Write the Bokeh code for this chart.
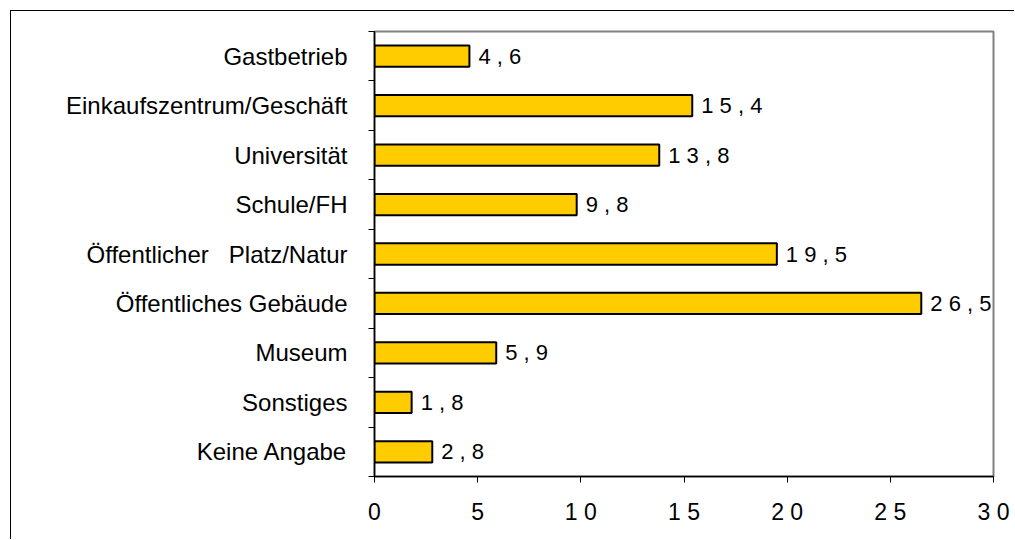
from bokeh.plotting import figure
from bokeh.models import Range1d, FixedTicker, ColumnDataSource
from bokeh.embed import file_html
from bokeh.resources import INLINE
from bokeh.core.properties import value

categories = ["Gastbetrieb", "Einkaufszentrum/Geschäft", "Universität", "Schule/FH",
              "Öffentlicher\u00a0\u00a0 Platz/Natur", "Öffentliches Gebäude", "Museum",
              "Sonstiges", "Keine Angabe"]
values = [4.6, 15.4, 13.8, 9.8, 19.5, 26.5, 5.9, 1.8, 2.8]
x_ticks = [0, 5, 10, 15, 20, 25, 30]

def spaced(s):
    return " ".join(list(s))

pos = list(range(len(categories)))
labels = [spaced(f"{v:.1f}".replace(".", ",")) for v in values]

src = ColumnDataSource(dict(y=pos, v=values, lab=labels))

FONT = "Liberation Sans"

p = figure(width=1004, height=529, output_backend="svg", toolbar_location=None,
           x_range=Range1d(0, 30), y_range=Range1d(len(categories) - 0.5, -0.5),
           min_border_left=363, min_border_right=22, min_border_top=20, min_border_bottom=64)
p.styles = {"border-top": "1px solid black", "border-left": "1px solid black",
            "margin-top": "10px", "margin-left": "10px"}

p.hbar(y="y", right="v", left=0, height=0.43, source=src,
       fill_color="#FFCC00", line_color="black", line_width=2)
p.text(x="v", y="y", text="lab", source=src, x_offset=9, text_baseline="middle",
       text_align="left", text_font=value(FONT), text_font_size="22px", text_color="black")

p.xgrid.visible = False
p.ygrid.visible = False
p.outline_line_color = "#808080"
p.outline_line_width = 2

xa = p.xaxis[0]
xa.ticker = FixedTicker(ticks=x_ticks)
xa.major_label_overrides = {t: spaced(str(t)) for t in x_ticks}
xa.major_tick_in = 0
xa.major_tick_out = 6
xa.minor_tick_out = 0
xa.minor_tick_in = 0
xa.axis_line_color = "black"
xa.axis_line_width = 1.5
xa.major_tick_line_color = "black"
xa.major_label_text_font = FONT
xa.major_label_text_font_size = "23px"
xa.major_label_text_color = "black"
xa.major_label_standoff = 16

ya = p.yaxis[0]
ya.ticker = FixedTicker(ticks=pos, minor_ticks=[i - 0.5 for i in range(len(categories) + 1)])
ya.major_label_overrides = {i: c for i, c in zip(pos, categories)}
ya.major_tick_in = 0
ya.major_tick_out = 0
ya.minor_tick_in = 0
ya.minor_tick_out = 6
ya.minor_tick_line_color = "black"
ya.axis_line_color = "black"
ya.axis_line_width = 1.5
ya.major_label_text_font = FONT
ya.major_label_text_font_size = "24px"
ya.major_label_text_color = "black"
ya.major_label_standoff = 21

open("out.html", "w").write(file_html(p, INLINE))
